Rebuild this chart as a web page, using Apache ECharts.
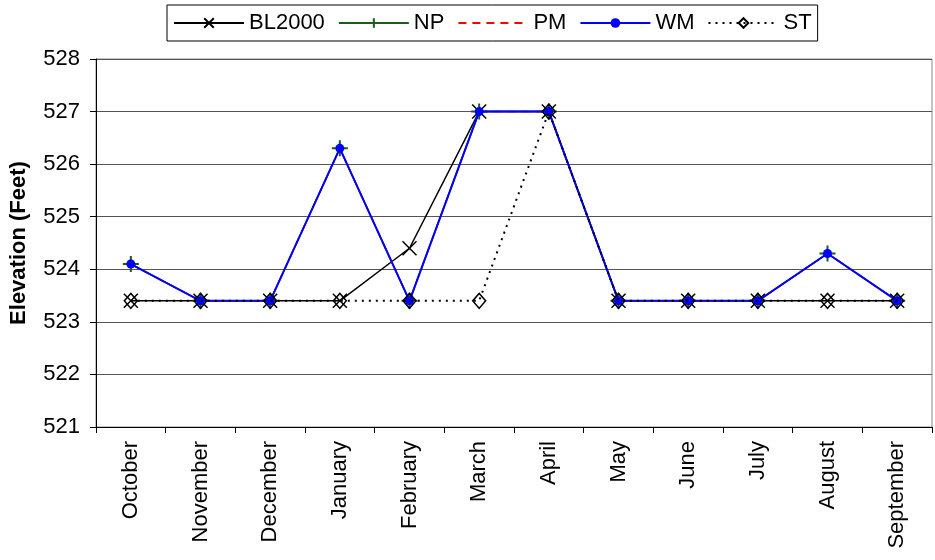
<!DOCTYPE html>
<html>
<head>
<meta charset="utf-8">
<script src="https://cdn.jsdelivr.net/npm/echarts@6/dist/echarts.min.js"></script>
<style>
html,body{margin:0;padding:0;background:#fff;}
#c{width:935px;height:560px;}
</style>
</head>
<body>
<div id="c"></div>
<script>
var months = ['October','November','December','January','February','March','April','May','June','July','August','September'];
var bl2000 = [523.4,523.4,523.4,523.4,524.4,527,527,523.4,523.4,523.4,523.4,523.4];
var np = [524.1,523.4,523.4,526.3,523.4,527,527,523.4,523.4,523.4,524.3,523.4];
var pm = [524.1,523.4,523.4,526.3,523.4,527,527,523.4,523.4,523.4,524.3,523.4];
var wm = [524.1,523.4,523.4,526.3,523.4,527,527,523.4,523.4,523.4,524.3,523.4];
var st = [523.4,523.4,523.4,523.4,523.4,523.4,527,523.4,523.4,523.4,523.4,523.4];
var yTicks = [521,522,523,524,525,526,527,528];

var FONT = '"Liberation Sans", Arial, sans-serif';
var chart = echarts.init(document.getElementById('c'), null, {renderer:'canvas'});
chart.setOption({
  animation:false,
  backgroundColor:'#fff',
  textStyle:{fontFamily:FONT},
  grid:{left:95,right:3,top:59,bottom:133,show:true,borderColor:'#888',borderWidth:1},
  legend:{
    left:167, top:5,
    padding:[7,6,7,6],
    borderColor:'#000', borderWidth:1,
    itemWidth:70, itemHeight:12, itemGap:13,
    textStyle:{fontSize:22,color:'#000',fontFamily:FONT},
    data:['BL2000','NP','PM','WM','ST']
  },
  xAxis:{
    type:'category',
    data:months,
    boundaryGap:true,
    axisLine:{lineStyle:{color:'#000',width:1}},
    axisTick:{show:true,length:6,lineStyle:{color:'#000'}},
    axisLabel:{rotate:90,fontSize:22,color:'#000',margin:14,fontFamily:FONT,interval:0},
    splitLine:{show:false}
  },
  yAxis:{
    type:'value',
    min:yTicks[0], max:yTicks[yTicks.length-1], interval:1,
    name:'Elevation (Feet)',
    nameLocation:'middle',
    nameGap:66,
    nameTextStyle:{fontSize:22,fontWeight:'bold',color:'#000',fontFamily:FONT},
    axisLine:{show:true,lineStyle:{color:'#000',width:1}},
    axisTick:{show:true,length:6,lineStyle:{color:'#000'}},
    axisLabel:{fontSize:22,color:'#000',margin:16,fontFamily:FONT},
    splitLine:{show:true,lineStyle:{color:'#555',width:1}}
  },
  series:[
    {name:'BL2000',type:'line',data:bl2000,z:2,
     symbol:'path://M0,0L10,10M10,0L0,10',symbolSize:14,symbolKeepAspect:true,showAllSymbol:true,
     lineStyle:{color:'#000',width:1.5},
     itemStyle:{color:'#000',borderColor:'#000',borderWidth:1.5}},
    {name:'NP',type:'line',data:np,z:3,
     symbol:'path://M5,0L5,10M0,5L10,5',symbolSize:16,symbolKeepAspect:true,showAllSymbol:true,
     lineStyle:{color:'#1a5c1a',width:1.5},
     itemStyle:{color:'#1a5c1a',borderColor:'#1a5c1a',borderWidth:2}},
    {name:'PM',type:'line',data:pm,z:4,
     symbol:'circle',symbolSize:1,showSymbol:false,
     lineStyle:{color:'#ff0000',width:1.5,type:[8,6]},
     itemStyle:{color:'rgba(255,0,0,0)',borderWidth:0}},
    {name:'WM',type:'line',data:wm,z:5,
     symbol:'circle',symbolSize:9,showAllSymbol:true,
     lineStyle:{color:'#0000ff',width:2},
     itemStyle:{color:'#0000ff',borderColor:'#0000ff',borderWidth:0}},
    {name:'ST',type:'line',data:st,z:6,
     symbol:'diamond',symbolSize:[13,15],showAllSymbol:true,
     lineStyle:{color:'#000',width:2,type:[2,5]},
     itemStyle:{color:'rgba(255,255,255,0)',borderColor:'#000',borderWidth:1.5}}
  ]
});
</script>
</body>
</html>
